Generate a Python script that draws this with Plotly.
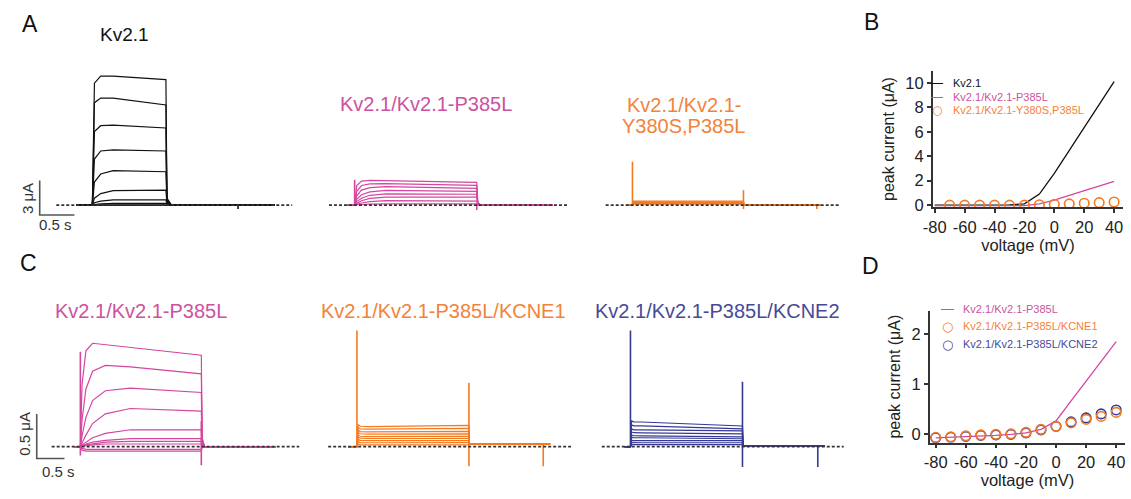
import plotly.graph_objects as go

W, H = 1131, 499
FONT = "Liberation Sans, Arial, sans-serif"

BLACK = "#111111"
MAGENTA = "#d4479f"
ORANGE = "#f47a22"
BLUE = "#363a94"
MAGENTA_T = "#cc52a0"
ORANGE_T = "#f2833a"
BLUE_T = "#474a98"

# ---------------- Panel B: peak current vs voltage ----------------
B_VOLT = [-80, -70, -60, -50, -40, -30, -20, -10, 0, 10, 20, 30, 40]
B_KV21 = [0.0, 0.0, 0.0, 0.0, 0.0, 0.02, 0.1, 0.9, 2.6, 4.5, 6.4, 8.2, 10.1]
B_P385L = [-0.05, -0.05, -0.05, -0.05, -0.05, -0.05, -0.04, 0.1, 0.4, 0.8, 1.17, 1.55, 1.94]
B_Y380S_VOLT = [-70, -60, -50, -40, -30, -20, -10, 0, 10, 20, 30, 40]
B_Y380S = [0.0, 0.0, 0.0, 0.0, 0.0, 0.0, 0.03, 0.06, 0.1, 0.15, 0.2, 0.25]
B_XTICKS = [-80, -60, -40, -20, 0, 20, 40]
B_XTICK_TEXT = ["-80", "-60", "-40", "-20", "0", "20", "40"]
B_YTICKS = [0, 2, 4, 6, 8, 10]
B_LEGEND = ["Kv2.1", "Kv2.1/Kv2.1-P385L", "Kv2.1/Kv2.1-Y380S,P385L"]

# ---------------- Panel D: peak current vs voltage ----------------
D_VOLT = [-80, -70, -60, -50, -40, -30, -20, -10, 0, 10, 20, 30, 40]
D_P385L = [-0.08, -0.07, -0.06, -0.04, -0.03, -0.01, 0.02, 0.09, 0.26, 0.66, 1.06, 1.45, 1.85]
D_KCNE1 = [-0.07, -0.06, -0.04, -0.02, -0.01, 0.0, 0.03, 0.09, 0.15, 0.22, 0.29, 0.35, 0.43]
D_KCNE2 = [-0.08, -0.07, -0.05, -0.03, -0.02, -0.01, 0.02, 0.08, 0.15, 0.24, 0.32, 0.40, 0.48]
D_XTICKS = [-80, -60, -40, -20, 0, 20, 40]
D_XTICK_TEXT = ["-80", "-60", "-40", "-20", "0", "20", "40"]
D_YTICKS = [0, 1, 2]
D_LEGEND = ["Kv2.1/Kv2.1-P385L", "Kv2.1/Kv2.1-P385L/KCNE1", "Kv2.1/Kv2.1-P385L/KCNE2"]

# ---------------- Current traces (time in s, current in uA) ----------------
# events: [trace start, pulse on, pulse off, trace stop]
# sweep rows: [I at each on+rise point ..., I at pulse off, tail]
A1_EVENTS = [0.0, 0.23, 1.29, 2.86]
A1_RISE = [0.03, 0.12, 0.30]
A1_DECAY = [0.015, 0.08]
A1_POST = 0.0
A1_SWEEPS = [
    [10.6, 11.2, 11.2, 10.9, 0.6],
    [8.9, 9.3, 9.3, 8.7, 0.5],
    [6.4, 6.9, 6.95, 6.7, 0.4],
    [4.0, 4.7, 4.8, 4.7, 0.3],
    [2.0, 2.7, 3.0, 2.9, 0.2],
    [0.6, 1.0, 1.25, 1.3, 0.15],
    [0.2, 0.35, 0.45, 0.45, 0.1],
    [0.05, 0.1, 0.14, 0.15, 0.05],
    [0.0, 0.02, 0.04, 0.05, 0.0],
    [-0.05, -0.05, -0.05, -0.05, 0.0],
]
A1_SPIKE_T = [0.23, 2.33]
A1_SPIKE_LO = [0.0, -0.35]
A1_SPIKE_HI = [0.3, 0.0]
A1_BASE = [-0.29, 3.11]

A2_EVENTS = [0.0, 0.11, 1.87, 2.97]
A2_RISE = [0.03, 0.1, 0.22, 0.45]
A2_DECAY = [0.015, 0.06]
A2_POST = 0.0
A2_SWEEPS = [
    [1.7, 2.08, 2.14, 2.12, 1.97, 0.2],
    [1.2, 1.7, 1.85, 1.87, 1.71, 0.15],
    [0.8, 1.3, 1.52, 1.6, 1.46, 0.1],
    [0.5, 0.9, 1.15, 1.27, 1.2, 0.1],
    [0.3, 0.6, 0.85, 0.97, 0.94, 0.05],
    [0.15, 0.38, 0.58, 0.7, 0.69, 0.05],
    [0.07, 0.18, 0.3, 0.38, 0.34, 0.0],
    [0.02, 0.05, 0.08, 0.1, 0.1, 0.0],
]
A2_SPIKE_T = [0.11, 1.87]
A2_SPIKE_LO = [0.0, -0.43]
A2_SPIKE_HI = [2.2, 0.1]
A2_BASE = [-0.26, 3.2]

A3_EVENTS = [0.0, 0.086, 1.686, 2.8]
A3_RISE = [0.01, 0.03, 0.1]
A3_DECAY = [0.01, 0.04]
A3_POST = 0.02
A3_SWEEPS = [
    [0.34, 0.34, 0.34, 0.34, 0.05],
    [0.28, 0.28, 0.28, 0.28, 0.03],
    [0.22, 0.22, 0.22, 0.22, 0.02],
    [0.15, 0.15, 0.15, 0.15, 0.02],
    [0.08, 0.08, 0.08, 0.08, 0.0],
]
A3_SPIKE_T = [0.086, 1.686, 2.743]
A3_SPIKE_LO = [0.0, -0.34, -0.34]
A3_SPIKE_HI = [3.77, 1.29, 0.02]
A3_BASE = [-0.3, 3.06]

C1_EVENTS = [0.0, 0.107, 2.286, 3.625]
C1_RISE = [0.03, 0.1, 0.22, 0.45, 0.9]
C1_DECAY = [0.015, 0.06]
C1_POST = 0.0
C1_SWEEPS = [
    [0.7, 1.08, 1.165, 1.15, 1.12, 1.03, 0.1],
    [0.3, 0.65, 0.85, 0.915, 0.9, 0.82, 0.08],
    [0.12, 0.33, 0.52, 0.63, 0.66, 0.61, 0.05],
    [0.04, 0.13, 0.26, 0.37, 0.43, 0.40, 0.03],
    [0.02, 0.05, 0.1, 0.15, 0.19, 0.19, 0.02],
    [0.01, 0.03, 0.05, 0.07, 0.09, 0.09, 0.0],
    [0.0, 0.02, 0.03, 0.05, 0.06, 0.06, 0.0],
    [0.0, 0.01, 0.02, 0.03, 0.03, 0.03, 0.0],
    [-0.02, -0.03, -0.03, -0.03, -0.03, -0.03, 0.0],
    [-0.04, -0.05, -0.05, -0.05, -0.05, -0.05, 0.0],
]
C1_SPIKE_T = [0.107, 2.286]
C1_SPIKE_LO = [-0.1, -0.21]
C1_SPIKE_HI = [1.07, 0.29]
C1_BASE = [-0.41, 4.05]

C2_EVENTS = [0.0, 0.161, 2.179, 3.643]
C2_RISE = [0.02, 0.06, 0.2]
C2_DECAY = [0.01, 0.03]
C2_POST = 0.03
C2_SWEEPS = [
    [0.25, 0.23, 0.226, 0.24, 0.03],
    [0.22, 0.2, 0.197, 0.205, 0.03],
    [0.19, 0.17, 0.167, 0.172, 0.03],
    [0.16, 0.145, 0.141, 0.145, 0.03],
    [0.13, 0.117, 0.114, 0.117, 0.03],
    [0.105, 0.095, 0.092, 0.094, 0.03],
    [0.08, 0.07, 0.067, 0.068, 0.03],
    [0.055, 0.046, 0.044, 0.045, 0.03],
    [0.03, 0.02, 0.019, 0.02, 0.03],
]
C2_SPIKE_T = [0.161, 2.179, 3.518]
C2_SPIKE_LO = [0.0, -0.22, -0.22]
C2_SPIKE_HI = [1.31, 0.72, 0.03]
C2_BASE = [-0.357, 4.018]

C3_EVENTS = [0.0, 0.107, 2.125, 3.607]
C3_RISE = [0.02, 0.06, 0.2]
C3_DECAY = [0.01, 0.03]
C3_POST = 0.01
C3_SWEEPS = [
    [0.29, 0.28, 0.278, 0.233, 0.01],
    [0.245, 0.235, 0.233, 0.2, 0.01],
    [0.2, 0.19, 0.189, 0.178, 0.01],
    [0.165, 0.157, 0.156, 0.144, 0.01],
    [0.13, 0.123, 0.122, 0.111, 0.01],
    [0.105, 0.1, 0.1, 0.089, 0.01],
    [0.07, 0.067, 0.067, 0.067, 0.01],
    [0.046, 0.044, 0.044, 0.044, 0.01],
    [0.023, 0.022, 0.022, 0.022, 0.01],
]
C3_SPIKE_T = [0.107, 2.125, 3.482]
C3_SPIKE_LO = [0.0, -0.23, -0.23]
C3_SPIKE_HI = [1.31, 0.73, 0.01]
C3_BASE = [-0.41, 3.95]

# scale bars: [seconds, microamps]
SCALE_A = [0.5, 3.0]
SCALE_C = [0.5, 0.5]

# ---------------------------------------------------------------
fig = go.Figure()


def dom(left, right, top, bottom):
    return [left / W, right / W], [1 - bottom / H, 1 - top / H]


def trace_axes(n, box, x0, sx, base, sy):
    left, right, top, bottom = box
    xd, yd = dom(*box)
    fig.update_layout({
        f"xaxis{n}": dict(domain=xd, range=[(left - x0) / sx, (right - x0) / sx],
                          visible=False, anchor=f"y{n}", fixedrange=True),
        f"yaxis{n}": dict(domain=yd, range=[(base - bottom) / sy, (base - top) / sy],
                          visible=False, anchor=f"x{n}", fixedrange=True),
    })


def sweep_xy(events, rise, decay, post, sweeps):
    start, on, off, stop = events
    k = len(rise)
    xs, ys = [], []
    for row in sweeps:
        xs += [start, on] + [on + r for r in rise] + [off, off + decay[0], off + decay[1], stop, None]
        ys += [0, 0] + list(row[:k]) + [row[k], row[k + 1], post, post, None]
    return xs, ys


def spike_xy(ts, lo, hi):
    xs, ys = [], []
    for t, a, b in zip(ts, lo, hi):
        xs += [t, t, None]
        ys += [a, b, None]
    return xs, ys


def add_panel(n, color, events, rise, decay, post, sweeps, st, slo, shi, base):
    ax = dict(xaxis=f"x{n}", yaxis=f"y{n}", showlegend=False, hoverinfo="skip")
    xs, ys = sweep_xy(events, rise, decay, post, sweeps)
    fig.add_trace(go.Scatter(x=xs, y=ys, mode="lines",
                             line=dict(color=color, width=1.2), **ax))
    xs, ys = spike_xy(st, slo, shi)
    fig.add_trace(go.Scatter(x=xs, y=ys, mode="lines",
                             line=dict(color=color, width=1.6), **ax))
    fig.add_trace(go.Scatter(x=base, y=[0, 0], mode="lines",
                             line=dict(color="#333333", width=1.6, dash="3px,2px"), **ax))


def add_scalebar(n, corner, scale):
    t0, i0 = corner
    fig.add_trace(go.Scatter(x=[t0, t0, t0 + scale[0]], y=[i0 + scale[1], i0, i0],
                             mode="lines", line=dict(color="#555555", width=1.6),
                             xaxis=f"x{n}", yaxis=f"y{n}", showlegend=False,
                             hoverinfo="skip"))


# axes for trace panels: box (left, right, top, bottom) in px, origin px, px/s, baseline px, px/uA
trace_axes(3, (20, 300, 60, 240), 67, 70, 208, 11.67)
trace_axes(4, (310, 580, 60, 240), 340, 70, 208, 11.67)
trace_axes(5, (590, 850, 60, 240), 622, 70, 208, 11.67)
trace_axes(6, (10, 300, 330, 490), 65, 56, 453, 90)
trace_axes(7, (310, 580, 330, 490), 341, 56, 453, 90)
trace_axes(8, (585, 860, 330, 490), 620, 56, 453, 90)

add_panel(3, BLACK, A1_EVENTS, A1_RISE, A1_DECAY, A1_POST, A1_SWEEPS,
          A1_SPIKE_T, A1_SPIKE_LO, A1_SPIKE_HI, A1_BASE)
add_panel(4, MAGENTA, A2_EVENTS, A2_RISE, A2_DECAY, A2_POST, A2_SWEEPS,
          A2_SPIKE_T, A2_SPIKE_LO, A2_SPIKE_HI, A2_BASE)
add_panel(5, ORANGE, A3_EVENTS, A3_RISE, A3_DECAY, A3_POST, A3_SWEEPS,
          A3_SPIKE_T, A3_SPIKE_LO, A3_SPIKE_HI, A3_BASE)
add_panel(6, MAGENTA, C1_EVENTS, C1_RISE, C1_DECAY, C1_POST, C1_SWEEPS,
          C1_SPIKE_T, C1_SPIKE_LO, C1_SPIKE_HI, C1_BASE)
add_panel(7, ORANGE, C2_EVENTS, C2_RISE, C2_DECAY, C2_POST, C2_SWEEPS,
          C2_SPIKE_T, C2_SPIKE_LO, C2_SPIKE_HI, C2_BASE)
add_panel(8, BLUE, C3_EVENTS, C3_RISE, C3_DECAY, C3_POST, C3_SWEEPS,
          C3_SPIKE_T, C3_SPIKE_LO, C3_SPIKE_HI, C3_BASE)

add_scalebar(3, (-0.529, -0.857), SCALE_A)
add_scalebar(6, (-0.679, -0.133), SCALE_C)

# ---------------- I-V panels ----------------
circle = dict(symbol="circle-open", size=9.5)
fig.add_trace(go.Scatter(x=B_VOLT, y=B_KV21, mode="lines", line=dict(color=BLACK, width=1.3),
                         name=B_LEGEND[0], xaxis="x", yaxis="y", showlegend=False))
fig.add_trace(go.Scatter(x=B_VOLT, y=B_P385L, mode="lines", line=dict(color=MAGENTA, width=1.3),
                         name=B_LEGEND[1], xaxis="x", yaxis="y", showlegend=False))
fig.add_trace(go.Scatter(x=B_Y380S_VOLT, y=B_Y380S, mode="markers",
                         marker=dict(color=ORANGE, line=dict(width=1.6, color=ORANGE), **circle),
                         name=B_LEGEND[2], xaxis="x", yaxis="y", showlegend=False))

fig.add_trace(go.Scatter(x=D_VOLT, y=D_P385L, mode="lines", line=dict(color=MAGENTA, width=1.3),
                         name=D_LEGEND[0], xaxis="x2", yaxis="y2", showlegend=False))
fig.add_trace(go.Scatter(x=D_VOLT, y=D_KCNE2, mode="markers",
                         marker=dict(color=BLUE, line=dict(width=1.6, color=BLUE), **circle),
                         name=D_LEGEND[2], xaxis="x2", yaxis="y2", showlegend=False))
fig.add_trace(go.Scatter(x=D_VOLT, y=D_KCNE1, mode="markers",
                         marker=dict(color=ORANGE, line=dict(width=1.6, color=ORANGE), **circle),
                         name=D_LEGEND[1], xaxis="x2", yaxis="y2", showlegend=False))

axis_common = dict(showline=True, linecolor="#333333", linewidth=1.5, ticks="outside",
                   ticklen=4, tickwidth=1.5, tickcolor="#333333", showgrid=False,
                   zeroline=False, fixedrange=True,
                   tickfont=dict(size=16.5, color="#222222", family=FONT))

bxd, byd = dom(931, 1123, 72, 210)
dxd, dyd = dom(928, 1125, 315, 449)
XT = dict(text="voltage (mV)", font=dict(size=16.5, color="#222222"), standoff=3)
YT = dict(text="peak current (μA)", font=dict(size=16, color="#222222"), standoff=7)
fig.update_layout(
    xaxis=dict(domain=bxd, range=[-81.33, 46.0], tickvals=B_XTICKS, ticktext=B_XTICK_TEXT,
               anchor="y", title=XT, **axis_common),
    yaxis=dict(domain=byd, range=[-0.161, 10.97], tickvals=B_YTICKS, anchor="x",
               title=YT, **axis_common),
    xaxis2=dict(domain=dxd, range=[-83.96, 45.9], tickvals=D_XTICKS, ticktext=D_XTICK_TEXT,
                anchor="y2", title=XT, **axis_common),
    yaxis2=dict(domain=dyd, range=[-0.178, 2.475], tickvals=D_YTICKS, anchor="x2",
                title=YT, **axis_common),
)

# ---------------- Text ----------------
annotations = []


def txt(text, x, y, size, color, angle=0, anchor="center", family=FONT):
    annotations.append(dict(text=text, x=x / W, y=1 - y / H, xref="paper", yref="paper",
                            showarrow=False, xanchor=anchor, yanchor="middle",
                            textangle=angle, font=dict(size=size, color=color, family=family)))


# key entries (symbol glyph + coloured label)
def key(label, color, kind, sym_x, text_x, y, size, gsize):
    if kind == "line":
        txt("—", sym_x, y, gsize, color)
    else:
        txt("○", sym_x, y, gsize, color, family="DejaVu Sans")
    txt(label, text_x, y, size, color, anchor="left")


key(B_LEGEND[0], BLACK, "line", 935, 949, 84, 11, 12)
key(B_LEGEND[1], MAGENTA_T, "line", 935, 949, 98, 11, 12)
key(B_LEGEND[2], ORANGE_T, "circle", 935, 949, 112, 11, 12)

key(D_LEGEND[0], MAGENTA_T, "line", 946, 959, 313, 11, 13)
key(D_LEGEND[1], ORANGE_T, "circle", 946, 959, 331, 11, 13)
key(D_LEGEND[2], BLUE_T, "circle", 946, 959, 349, 11, 13)

txt("A", 20, 24, 23, BLACK)
txt("B", 869, 22, 23, BLACK)
txt("C", 19, 267, 23, BLACK)
txt("D", 868, 270, 23, BLACK)

txt("Kv2.1", 116, 35, 19, BLACK)
txt("Kv2.1/Kv2.1-P385L", 420, 105, 20, MAGENTA_T)
txt("Kv2.1/Kv2.1-", 681, 107, 20, ORANGE_T)
txt("Y380S,P385L", 680, 128, 20, ORANGE_T)
txt("Kv2.1/Kv2.1-P385L", 132, 315, 20, MAGENTA_T)
txt("Kv2.1/Kv2.1-P385L/KCNE1", 437, 315, 20, ORANGE_T)
txt("Kv2.1/Kv2.1-P385L/KCNE2", 714, 315, 20, BLUE_T)

txt("3 μA", 17, 201, 15, "#333333", angle=-90)
txt("0.5 s", 46, 228, 15, "#333333")
txt("0.5 μA", 15, 440, 15, "#333333", angle=-90)
txt("0.5 s", 49, 478, 15, "#333333")

fig.update_layout(
    width=W, height=H, margin=dict(l=0, r=0, t=0, b=0),
    paper_bgcolor="white", plot_bgcolor="white",
    font=dict(family=FONT, color="#222222"),
    annotations=annotations, showlegend=False,
)

fig.write_html("out.html",
               config={"displayModeBar": False},
               post_script="document.body.style.margin='0px';"
                           "document.body.style.overflow='hidden';")
